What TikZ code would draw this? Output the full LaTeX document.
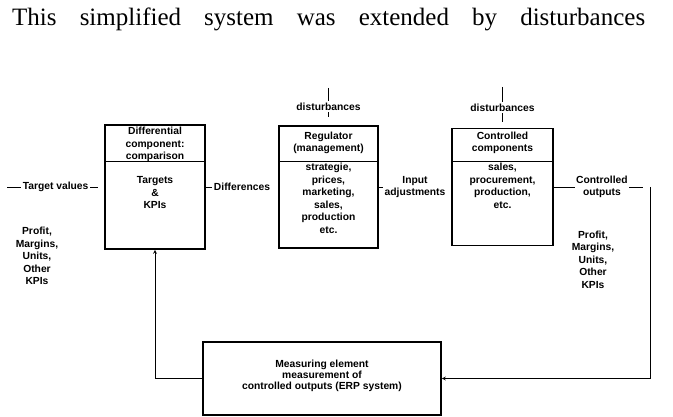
\documentclass[tikz,border=0pt]{standalone}
\usepackage{fontspec}
\setmainfont{Liberation Serif}
\newfontfamily\labfont{Liberation Sans}
\usepackage{xcolor}
\usepackage{tikz}

\begin{document}
\begin{tikzpicture}[x=1pt,y=-1pt,>=stealth,
	block/.style={draw,line width=1.6pt,inner sep=0pt},
	txt/.style={font=\labfont\bfseries\fontsize{10.3}{12.5}\selectfont,align=center,inner sep=0pt},
	lbl/.style={txt,fill=white,inner sep=1.5pt},
	wire/.style={line width=0.8pt}]
	\useasboundingbox (0,0) rectangle (673,417);

	\node[anchor=base west,inner sep=0pt] (intro) at (12,26) {\fontsize{25}{30}\selectfont\makebox[633pt][s]{This simplified system was extended by disturbances}};

	% the four blocks
	\node[block,minimum width=100pt,minimum height=124pt] (diff) at (155,187) {};
	\node[block,minimum width=99pt,minimum height=122pt] (reg) at (328.5,187) {};
	\node[block,minimum width=101pt,minimum height=117pt] (ctrl) at (502.5,187) {};
	\node[block,minimum width=238pt,minimum height=73pt] (meas) at (322,378.5) {};

	\draw[wire] ([yshift=-37pt]diff.north west) -- ([yshift=-37pt]diff.north east);
	\draw[wire] ([yshift=-36pt]reg.north west) -- ([yshift=-36pt]reg.north east);
	\draw[wire] ([yshift=-33.5pt]ctrl.north west) -- ([yshift=-33.5pt]ctrl.north east);

	\node[txt] (diff-head) at (155,144.5) {Differential\\component:\\comparison};
	\node[txt] (diff-body) at (155,193) {Targets\\\&\\KPIs};
	\node[txt] (reg-head) at (328.5,143) {Regulator\\(management)};
	\node[txt] (reg-body) at (328.5,198.5) {strategie,\\prices,\\marketing,\\sales,\\production\\etc.};
	\node[txt] (ctrl-head) at (502.5,143) {Controlled\\components};
	\node[txt] (ctrl-body) at (502.5,186) {sales,\\procurement,\\production,\\etc.};
	\node[txt,font=\labfont\bfseries\fontsize{10.3}{11}\selectfont] (meas-text) at (322,376) {Measuring element\\measurement of\\controlled outputs (ERP system)};

	\node[txt] (kpi-left) at (37,256) {Profit,\\Margins,\\Units,\\Other\\KPIs};
	\node[txt] (kpi-right) at (593,259.6) {Profit,\\Margins,\\Units,\\Other\\KPIs};

	% loose ends
	\coordinate (tv) at (7,187);
	\coordinate (co) at (650,187);
	\coordinate (dist-reg) at (328.5,88);
	\coordinate (dist-ctrl) at (502.5,87);

	\draw[wire,shorten >=6pt] (tv) -- (diff.west) node[lbl,midway] (tv-label) {Target values};
	\draw[wire,shorten >=6pt] (diff.east) -- (reg.west) node[lbl,midway] (diff-label) {Differences};
	\draw[wire,shorten >=5pt] (reg.east) -- (ctrl.west) node[lbl,midway] (in-label) {Input\\adjustments};
	\draw[wire,shorten >=7pt] (ctrl.east) -- (co) node[lbl,midway] (out-label) {Controlled\\outputs};
	\draw[wire,->] (co) |- (meas.east);
	\draw[wire,->] (meas.west) -| (diff.south);
	\draw[wire,shorten >=8pt] (dist-reg) -- (reg.north) node[lbl,midway] (dist-reg-label) {disturbances};
	\draw[wire,shorten >=6pt] (dist-ctrl) -- (ctrl.north) node[lbl,midway] (dist-ctrl-label) {disturbances};
\end{tikzpicture}
\end{document}
